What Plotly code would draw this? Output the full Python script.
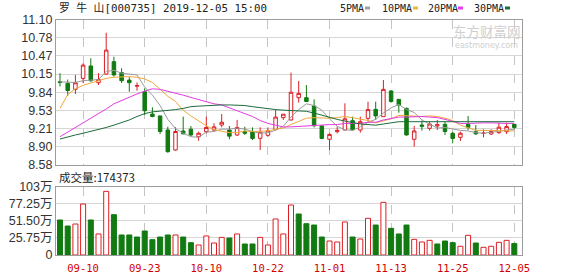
import plotly.graph_objects as go

# ---------------- data ----------------
dates = ["09-05","09-06","09-09","09-10","09-11","09-12","09-16","09-17","09-18","09-19",
         "09-20","09-23","09-24","09-25","09-26","09-27","09-30","10-08","10-09","10-10",
         "10-11","10-14","10-15","10-16","10-17","10-18","10-21","10-22","10-23","10-24",
         "10-25","10-28","10-29","10-30","10-31","11-01","11-04","11-05","11-06","11-07",
         "11-08","11-11","11-12","11-13","11-14","11-15","11-18","11-19","11-20","11-21",
         "11-22","11-25","11-26","11-27","11-28","11-29","12-02","12-03","12-04","12-05"]

tick_dates = ["09-10", "09-23", "10-10", "10-22", "11-01", "11-13", "11-25", "12-05"]

opens = [10.02, 9.995, 9.89, 10.08, 10.295, 10.005, 10.156, 10.37, 10.18, 10.05,
         9.945, 9.85, 9.463, 9.43, 9.186, 8.84, 9.169, 9.20, 9.07, 9.157,
         9.186, 9.273, 9.186, 9.10, 9.157, 9.157, 9.042, 9.094, 9.198, 9.40,
         9.36, 9.746, 9.746, 9.602, 9.256, 9.025, 9.157, 9.186, 9.348, 9.186,
         9.388, 9.544, 9.417, 9.862, 9.717, 9.561, 9.025, 9.273, 9.215, 9.256,
         9.284, 9.129, 9.059, 9.284, 9.157, 9.13, 9.117, 9.14, 9.157, 9.284]
highs = [10.17, 10.06, 10.14, 10.34, 10.43, 10.17, 10.87, 10.456, 10.255, 10.10,
         10.01, 9.91, 9.58, 9.43, 9.243, 9.233, 9.417, 9.255, 9.157, 9.417,
         9.302, 9.463, 9.256, 9.36, 9.244, 9.232, 9.232, 9.232, 9.533, 9.463,
         10.18, 10.035, 9.966, 9.717, 9.273, 9.129, 9.244, 9.648, 9.417, 9.417,
         9.677, 9.677, 10.052, 9.879, 9.717, 9.575, 9.256, 9.348, 9.331, 9.36,
         9.331, 9.157, 9.157, 9.429, 9.273, 9.198, 9.198, 9.313, 9.313, 9.29]
lows = [9.94, 9.775, 9.81, 10.00, 10.02, 9.965, 10.14, 10.11, 10.00, 9.85,
        9.867, 9.445, 9.406, 9.117, 8.793, 8.828, 9.11, 9.08, 9.00, 9.129,
        9.157, 9.232, 9.025, 9.082, 9.10, 9.013, 8.84, 9.071, 9.198, 9.36,
        9.348, 9.66, 9.677, 9.232, 9.025, 8.84, 9.129, 9.186, 9.175, 9.14,
        9.331, 9.36, 9.417, 9.66, 9.486, 9.09, 8.898, 9.175, 9.175, 9.186,
        9.10, 8.955, 8.996, 9.186, 9.10, 9.059, 9.10, 9.117, 9.117, 9.198]
closes = [10.01, 9.87, 10.005, 10.31, 10.04, 10.06, 10.57, 10.14, 10.04, 10.005,
          9.955, 9.52, 9.42, 9.16, 8.81, 9.16, 9.12, 9.10, 9.13, 9.23,
          9.24, 9.32, 9.08, 9.23, 9.13, 9.04, 9.15, 9.17, 9.41, 9.46,
          9.84, 9.82, 9.68, 9.26, 9.04, 9.11, 9.18, 9.38, 9.19, 9.33,
          9.54, 9.43, 9.89, 9.68, 9.62, 9.10, 9.17, 9.25, 9.29, 9.28,
          9.16, 9.04, 9.13, 9.23, 9.12, 9.13, 9.16, 9.235, 9.245, 9.23]

ma5 = [10.02, 10.01, 10.01, 10.04, 10.05, 10.06, 10.20, 10.22, 10.17, 10.16,
       10.14, 9.93, 9.79, 9.61, 9.37, 9.21, 9.13, 9.07, 9.06, 9.15,
       9.16, 9.20, 9.20, 9.22, 9.20, 9.16, 9.13, 9.14, 9.18, 9.25,
       9.41, 9.54, 9.64, 9.61, 9.53, 9.38, 9.25, 9.19, 9.18, 9.24,
       9.32, 9.37, 9.48, 9.57, 9.63, 9.54, 9.49, 9.36, 9.29, 9.22,
       9.23, 9.20, 9.18, 9.17, 9.14, 9.13, 9.15, 9.17, 9.18, 9.20]
ma10 = [9.56, 9.80, 9.90, 9.96, 10.00, 10.04, 10.08, 10.10, 10.11, 10.11,
        10.10, 10.07, 10.01, 9.89, 9.77, 9.68, 9.53, 9.43, 9.34, 9.26,
        9.19, 9.17, 9.14, 9.14, 9.17, 9.16, 9.17, 9.17, 9.20, 9.22,
        9.28, 9.33, 9.39, 9.40, 9.39, 9.39, 9.40, 9.42, 9.40, 9.38,
        9.35, 9.31, 9.34, 9.38, 9.44, 9.43, 9.43, 9.42, 9.43, 9.42,
        9.39, 9.35, 9.27, 9.23, 9.18, 9.18, 9.18, 9.18, 9.17, 9.17]
ma20 = [9.07, 9.15, 9.23, 9.30, 9.39, 9.465, 9.55, 9.64, 9.70, 9.76,
        9.81, 9.86, 9.90, 9.89, 9.86, 9.83, 9.79, 9.75, 9.71, 9.68,
        9.64, 9.62, 9.57, 9.52, 9.47, 9.42, 9.35, 9.30, 9.27, 9.24,
        9.24, 9.25, 9.26, 9.27, 9.28, 9.28, 9.28, 9.30, 9.30, 9.30,
        9.32, 9.32, 9.36, 9.39, 9.41, 9.41, 9.42, 9.42, 9.41, 9.40,
        9.37, 9.33, 9.30, 9.30, 9.31, 9.31, 9.31, 9.30, 9.30, 9.30]
ma30 = [9.03, 9.07, 9.10, 9.13, 9.16, 9.20, 9.23, 9.27, 9.31, 9.36,
        9.42, 9.47, 9.50, 9.51, 9.52, 9.54, 9.56, 9.59, 9.60, 9.61,
        9.62, 9.62, 9.62, 9.62, 9.61, 9.59, 9.57, 9.55, 9.54, 9.53,
        9.52, 9.52, 9.51, 9.48, 9.44, 9.41, 9.37, 9.34, 9.31, 9.29,
        9.28, 9.27, 9.29, 9.31, 9.33, 9.33, 9.33, 9.34, 9.34, 9.34,
        9.34, 9.33, 9.33, 9.33, 9.33, 9.33, 9.34, 9.34, 9.33, 9.33]

# volume in 万 (10k shares)
volume = [52.8, 43.7, 46.7, 76.9, 52.8, 31.7, 96.0, 60.8, 30.2, 30.2,
          27.1, 36.2, 23.1, 27.1, 30.2, 30.2, 27.1, 18.6, 15.1, 28.7,
          18.1, 26.6, 25.6, 31.7, 16.6, 16.6, 26.6, 15.1, 54.3, 31.7,
          75.4, 61.8, 47.2, 45.2, 27.1, 21.1, 19.6, 49.8, 27.1, 24.1,
          55.3, 45.2, 79.4, 40.2, 31.7, 45.2, 23.6, 19.6, 22.1, 16.6,
          21.1, 18.6, 13.1, 29.7, 18.1, 11.6, 13.1, 19.1, 22.1, 17.4373]
last_volume = 174373

price_ticks = [8.58, 8.895, 9.21, 9.525, 9.84, 10.155, 10.47, 10.785, 11.10]
price_labels = ["8.58", "8.90", "9.21", "9.53", "9.84", "10.15", "10.47", "10.78", "11.10"]
vol_ticks = [0, 25.75, 51.5, 77.25, 103]
vol_labels = ["0", "25.75万", "51.50万", "77.25万", "103万"]

title_text = "罗 牛 山[000735] 2019-12-05 15:00"

# ---------------- styles ----------------
RED = "#dc1e23"
GREEN = "#117a11"
W, H = 578, 276
L, R = 56, 522


def px_x(p):
    return (p - L) / (R - L)


def px_y(p):
    return 1 - p / H


vol_fill, vol_line = [], []
for i, v in enumerate(volume):
    up = i > 0 and closes[i] > closes[i - 1]
    vol_fill.append("white" if up else GREEN)
    vol_line.append(RED if up else GREEN)

fig = go.Figure()
fig.add_trace(go.Candlestick(
    x=dates, open=opens, high=highs, low=lows, close=closes,
    increasing=dict(line=dict(color=RED, width=1), fillcolor="white"),
    decreasing=dict(line=dict(color=GREEN, width=1), fillcolor=GREEN),
    whiskerwidth=0, xaxis="x", yaxis="y", hoverinfo="skip"))

for series, color in [(ma5, "#9a9a9a"), (ma10, "#f0a83a"), (ma20, "#e23be2"), (ma30, "#1d6b3a")]:
    fig.add_trace(go.Scatter(x=dates, y=series, mode="lines",
                             line=dict(color=color, width=1),
                             xaxis="x", yaxis="y", hoverinfo="skip"))

fig.add_trace(go.Bar(x=dates, y=volume, marker=dict(color=vol_fill, line=dict(color=vol_line, width=1)),
                     xaxis="x2", yaxis="y2", hoverinfo="skip"))

grid = "#d6d6d6"
frame = "#9c9c9c"
axis_common = dict(type="category", range=[-0.52, 60.0], tickvals=tick_dates,
                   showgrid=True, gridcolor="#c4c4c4", griddash="dash", gridwidth=1,
                   showline=True, mirror=True, linecolor=frame, linewidth=1,
                   zeroline=False, automargin=False, fixedrange=True)

fig.update_layout(
    width=W, height=H, template="none",
    margin=dict(l=L, r=W - R, t=0, b=0, pad=0),
    paper_bgcolor="white", plot_bgcolor="white",
    showlegend=False, boxgap=0.35, bargap=0.35,
    xaxis=dict(domain=[0, 1], anchor="y", showticklabels=False, ticks="",
               rangeslider=dict(visible=False), **axis_common),
    yaxis=dict(domain=[px_y(165), px_y(19.5)], range=[8.58, 11.10], anchor="x",
               tickvals=price_ticks, ticktext=price_labels, ticks="",
               showgrid=True, gridcolor=grid, zeroline=False,
               showline=True, mirror=True, linecolor=frame, automargin=False,
               tickfont=dict(family="Liberation Sans, Arial", size=12.5, color="#333333")),
    xaxis2=dict(domain=[0, 1], anchor="y2", matches="x", showticklabels=True,
                ticks="outside", ticklen=3, tickcolor="rgba(0,0,0,0)",
                tickfont=dict(family="DejaVu Sans Mono", size=10.5, color="#d40000"),
                **axis_common),
    yaxis2=dict(domain=[px_y(255), px_y(186.7)], range=[0, 103], anchor="x2",
                tickvals=vol_ticks, ticktext=vol_labels, ticks="",
                showgrid=True, gridcolor=grid, zeroline=False,
                showline=True, mirror=True, linecolor=frame, automargin=False,
                tickfont=dict(family="Liberation Sans, Noto Sans CJK SC", size=12.5, color="#333333")),
)

ann = []
ann.append(dict(text=title_text, x=px_x(57), y=px_y(8.5), xref="paper", yref="paper",
                xanchor="left", yanchor="middle", showarrow=False,
                font=dict(family="DejaVu Sans Mono, Noto Sans CJK SC", size=10.8, color="#222222")))
ann.append(dict(text="成交量:" + str(last_volume), x=px_x(57), y=px_y(177), xref="paper", yref="paper",
                xanchor="left", yanchor="middle", showarrow=False,
                font=dict(family="Noto Sans CJK SC", size=11.5, color="#222222")))

legend_items = [("5PMA", 338, 365, "#a0a0a0"), ("10PMA", 380, 413, "#f0b830"),
                ("20PMA", 426, 458, "#e83ce8"), ("30PMA", 472, 505, "#1d6b3a")]
shapes = []
for label, tx, sx, col in legend_items:
    ann.append(dict(text=label, x=px_x(tx), y=px_y(8.5), xref="paper", yref="paper",
                    xanchor="left", yanchor="middle", showarrow=False,
                    font=dict(family="DejaVu Sans Mono", size=10, color="#222222")))
    shapes.append(dict(type="rect", xref="paper", yref="paper",
                       x0=px_x(sx), x1=px_x(sx + 5), y0=px_y(9.5), y1=px_y(6.5),
                       fillcolor=col, line=dict(width=0)))

# watermark
ann.append(dict(text="东方财富网", x=px_x(487), y=px_y(31.5), xref="paper", yref="paper",
                xanchor="center", yanchor="middle", showarrow=False,
                font=dict(family="Noto Sans CJK SC", size=13.5, color="#cfcfcf")))
ann.append(dict(text="eastmoney.com", x=px_x(486), y=px_y(45), xref="paper", yref="paper",
                xanchor="center", yanchor="middle", showarrow=False,
                font=dict(family="DejaVu Sans", size=8, color="#cfcfcf")))

fig.update_layout(annotations=ann, shapes=shapes)
fig.write_html("out.html")
